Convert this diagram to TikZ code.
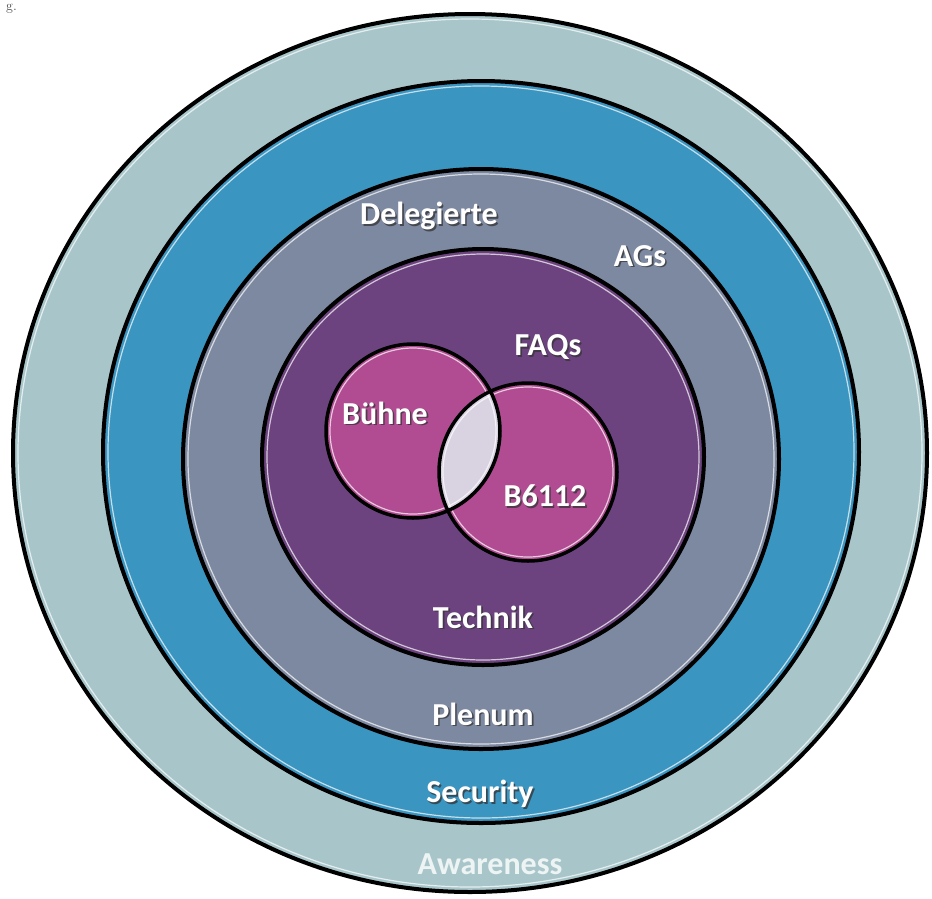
\documentclass[tikz,border=0pt]{standalone}
\usepackage{fontspec}
\newfontfamily\calib{Carlito}
\definecolor{awarecol}{HTML}{A8C6CA}
\definecolor{securcol}{HTML}{3A95C1}
\definecolor{plenumcol}{HTML}{7D89A1}
\definecolor{technikcol}{HTML}{6C437F}
\definecolor{venncol}{HTML}{B14C93}
\definecolor{lenscol}{HTML}{D9D2E1}
% label with a dark drop shadow
\newcommand{\ringlabel}[3]{%
    \node[lbl, text=black!80, opacity=0.75, xshift=1.6pt, yshift=-1.6pt] at (#2) {#3};
    \node[lbl, text=white] (#1) at (#2) {#3};}
\begin{document}
\begin{tikzpicture}[x=1pt,y=-1pt,
    ring/.style={draw=black, line width=4pt},
    glow/.style={draw=white, line width=1.2pt, opacity=0.7},
    lbl/.style={font=\calib\bfseries\fontsize{32}{36}\selectfont}]
    \useasboundingbox (0,0) rectangle (932,898);
    \node[anchor=north west, inner sep=0pt, font=\fontsize{14}{16}\selectfont, text=black!70] (caption) at (6,4) {g.};

    % Awareness ring
    \fill[awarecol] (470,453) ellipse (457 and 439);
    \draw[glow] (470,453) ellipse (452 and 434);
    \draw[ring] (470,453) ellipse (457 and 439);
    % Security ring
    \fill[securcol] (481,452) ellipse (378 and 371);
    \draw[glow] (481,452) ellipse (373 and 366);
    \draw[ring] (481,452) ellipse (378 and 371);
    % Plenum ring
    \fill[plenumcol] (481,459) ellipse (298 and 290);
    \draw[glow] (481,459) ellipse (293 and 285);
    \draw[ring] (481,459) ellipse (298 and 290);
    % Technik disc
    \fill[technikcol] (483,457) ellipse (221 and 208);
    \draw[glow] (483,457) ellipse (216 and 203);
    \draw[ring] (483,457) ellipse (221 and 208);

    % Venn circles
    \fill[venncol] (413,431) circle (87);
    \fill[venncol] (528,472) circle (89);
    \begin{scope}
        \clip (413,431) circle (87);
        \fill[lenscol] (528,472) circle (89);
    \end{scope}
    \draw[glow] (413,431) circle (83);
    \draw[glow] (528,472) circle (85);
    \draw[ring, line width=3.5pt] (413,431) circle (87);
    \draw[ring, line width=3.5pt] (528,472) circle (89);

    % Labels
    \ringlabel{delegierte}{429,216}{Delegierte}
    \ringlabel{ags}{640,256}{AGs}
    \ringlabel{faqs}{548,347}{FAQs}
    \ringlabel{buehne}{385,413}{Bühne}
    \ringlabel{bsix}{545,496}{B6112}
    \ringlabel{technik}{483,617}{Technik}
    \ringlabel{plenum}{483,714}{Plenum}
    \ringlabel{security}{480,794}{Security}
    \node[lbl, text=white!80!awarecol] (awareness) at (490,864) {Awareness};
\end{tikzpicture}
\end{document}
